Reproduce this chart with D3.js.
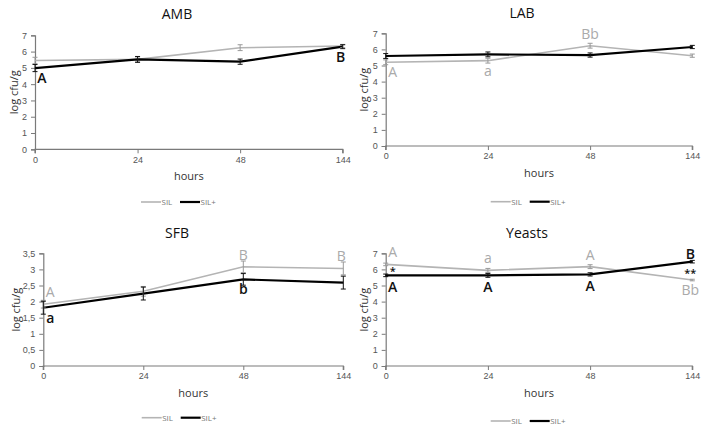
<!DOCTYPE html>
<html><head><meta charset="utf-8">
<script src="https://cdn.jsdelivr.net/npm/d3@7"></script>
<style>
body{margin:0;background:#fff;}
svg{display:block;font-family:"Open Sans","Lato",sans-serif;}
</style></head>
<body><svg id="c" width="708" height="432"></svg>
<script>
// ---------- DATA ----------
const hours = ["0", "24", "48", "144"];
const seriesNames = ["SIL", "SIL+"];

const ambSIL = [5.45, 5.52, 6.24, 6.34];
const ambSILplus = [4.99, 5.52, 5.38, 6.30];
const ambErrSIL = [0.2, 0.15, 0.18, 0.1];
const ambErrSILplus = [0.22, 0.18, 0.16, 0.12];

const labSIL = [5.20, 5.30, 6.23, 5.61];
const labSILplus = [5.59, 5.69, 5.65, 6.15];
const labErrSIL = [0.15, 0.15, 0.15, 0.1];
const labErrSILplus = [0.15, 0.15, 0.13, 0.1];

const sfbSIL = [1.92, 2.32, 3.08, 3.03];
const sfbSILplus = [1.81, 2.25, 2.69, 2.59];
const sfbErrSIL = [0.12, 0.15, 0.18, 0.2];
const sfbErrSILplus = [0.2, 0.2, 0.18, 0.2];

const yeastSIL = [6.31, 5.94, 6.17, 5.34];
const yeastSILplus = [5.63, 5.63, 5.69, 6.48];
const yeastErrSIL = [0.08, 0.12, 0.12, 0.05];
const yeastErrSILplus = [0.08, 0.12, 0.1, 0.08];

const ambTicks = ["0","1","2","3","4","5","6","7"];
const sfbTicks = ["0","0,5","1","1,5","2","2,5","3","3,5"];

// annotation letters: [series index, point index, text, side]
const ambNotes = [[1,0,"A","below"],[1,3,"B","below"]];
const labNotes = [[0,0,"A","below"],[0,1,"a","below"],[0,2,"Bb","above"]];
const sfbNotes = [[0,0,"A","above"],[1,0,"a","below"],[0,2,"B","above"],[1,2,"b","below"],[0,3,"B","above"]];
const yeastNotes = [[0,0,"A","above"],[1,0,"*","starAbove"],[1,0,"A","belowFar"],[0,1,"a","above"],[1,1,"A","belowFar"],
                    [0,2,"A","above"],[1,2,"A","belowFar"],[1,3,"B","aboveB"],[1,3,"**","starBelow"],[0,3,"Bb","below"]];

// ---------- LAYOUT ----------
const panels = [
  {title:"AMB", tx:177, ty:19, L:35, R:342.7, T:35.3, B:149.3, ymax:7, ticks:ambTicks, tickVals:d3.range(0,7.01,1),
   vals:[ambSIL, ambSILplus], errs:[ambErrSIL, ambErrSILplus], notes:ambNotes, ylx:13, lgx:141, lgy:202},
  {title:"LAB", tx:522, ty:18, L:385.7, R:692.3, T:33.3, B:146, ymax:7, ticks:ambTicks, tickVals:d3.range(0,7.01,1),
   vals:[labSIL, labSILplus], errs:[labErrSIL, labErrSILplus], notes:labNotes, ylx:363, lgx:490.7, lgy:201.7},
  {title:"SFB", tx:177, ty:238, L:43.3, R:343.3, T:253.3, B:366, ymax:3.5, ticks:sfbTicks, tickVals:d3.range(0,3.51,0.5),
   vals:[sfbSIL, sfbSILplus], errs:[sfbErrSIL, sfbErrSILplus], notes:sfbNotes, ylx:15, lgx:141.7, lgy:417.7},
  {title:"Yeasts", tx:527, ty:238, L:385.7, R:692.3, T:253.3, B:366, ymax:7, ticks:ambTicks, tickVals:d3.range(0,7.01,1),
   vals:[yeastSIL, yeastSILplus], errs:[yeastErrSIL, yeastErrSILplus], notes:yeastNotes, ylx:363, lgx:490.7, lgy:421}
];
const colors = ["#b4b4b4", "#000000"];
const widths = [1.6, 2.2];
const axisColor = "#7a7a7a";

const svg = d3.select("#c");

panels.forEach(p => {
  const g = svg.append("g");
  const x = d3.scalePoint().domain(hours).range([p.L, p.R]);
  const y = d3.scaleLinear().domain([0, p.ymax]).range([p.B, p.T]);

  // title
  g.append("text").attr("x", p.tx).attr("y", p.ty).attr("text-anchor","middle")
    .attr("font-size", 14).attr("fill","#111").text(p.title);

  // y axis
  const ya = d3.axisLeft(y).tickValues(p.tickVals).tickSize(4).tickPadding(4)
    .tickFormat((d,i) => p.ticks[i]);
  const yg = g.append("g").attr("transform", `translate(${p.L},0)`).call(ya);
  yg.select(".domain").attr("stroke", axisColor).attr("stroke-width",1.2);
  yg.selectAll(".tick line").attr("stroke", axisColor);
  yg.selectAll(".tick text").attr("font-size", 9).attr("fill","#555");

  // x axis
  const xa = d3.axisBottom(x).tickSize(4).tickPadding(3);
  const xg = g.append("g").attr("transform", `translate(0,${p.B})`).call(xa);
  xg.select(".domain").attr("stroke", axisColor).attr("stroke-width",1.2).attr("d", `M${p.L},4V0H${p.R}V4`);
  xg.selectAll(".tick line").attr("stroke", axisColor);
  xg.selectAll(".tick text").attr("font-size", 9).attr("fill","#555");

  // axis titles
  g.append("text").attr("x", (p.L+p.R)/2).attr("y", p.B+31).attr("text-anchor","middle")
    .attr("font-size", 11).attr("fill","#333").text("hours");
  g.append("text").attr("transform", `translate(${p.ylx},${(p.T+p.B)/2}) rotate(-90)`)
    .attr("text-anchor","middle").attr("dominant-baseline","central")
    .attr("font-size", 11).attr("fill","#333").text("log cfu/g");

  // series
  const line = d3.line().x((d,i) => x(hours[i])).y(d => y(d));
  p.vals.forEach((vals, s) => {
    g.append("path").datum(vals).attr("d", line).attr("fill","none")
      .attr("stroke", colors[s]).attr("stroke-width", widths[s]);
  });
  // error bars
  p.vals.forEach((vals, s) => {
    const eb = g.append("g").attr("stroke", s ? "#111" : "#999").attr("stroke-width", 1);
    vals.forEach((v,i) => {
      const cx = x(hours[i]), e = p.errs[s][i];
      eb.append("line").attr("x1",cx).attr("x2",cx).attr("y1",y(v-e)).attr("y2",y(v+e));
      eb.append("line").attr("x1",cx-2.5).attr("x2",cx+2.5).attr("y1",y(v-e)).attr("y2",y(v-e));
      eb.append("line").attr("x1",cx-2.5).attr("x2",cx+2.5).attr("y1",y(v+e)).attr("y2",y(v+e));
    });
  });

  // annotations
  const n = hours.length;
  p.notes.forEach(([s, i, t, side]) => {
    const cx = x(hours[i]) + (i === 0 ? 7 : (i === n-1 ? -2 : 0));
    const cy = y(p.vals[s][i]);
    let dy = 0, fs = 14;
    if (side === "below") dy = 15;
    else if (side === "belowFar") dy = 16.5;
    else if (side === "above") dy = -7;
    else if (side === "aboveB") dy = -3;
    else if (side === "starAbove") { dy = -0.5; fs = 11; }
    else if (side === "starBelow") { dy = 15; fs = 11; }
    g.append("text").attr("x", cx).attr("y", cy + dy).attr("text-anchor","middle")
      .attr("font-size", fs).attr("fill", s ? "#111" : "#aaa")
      .attr("font-weight", s ? "600" : "400")
      .text(t);
  });

  // legend
  const lg = g.append("g").attr("transform", `translate(${p.lgx},${p.lgy})`);
  const lx = [0, 39];
  seriesNames.forEach((nm, s) => {
    lg.append("line").attr("x1", lx[s]).attr("x2", lx[s]+20).attr("y1",0).attr("y2",0)
      .attr("stroke", colors[s]).attr("stroke-width", widths[s]);
    lg.append("text").attr("x", lx[s]+20.5).attr("y", 3).attr("font-size", 8).attr("fill","#777").text(nm);
  });
});
</script></body></html>
